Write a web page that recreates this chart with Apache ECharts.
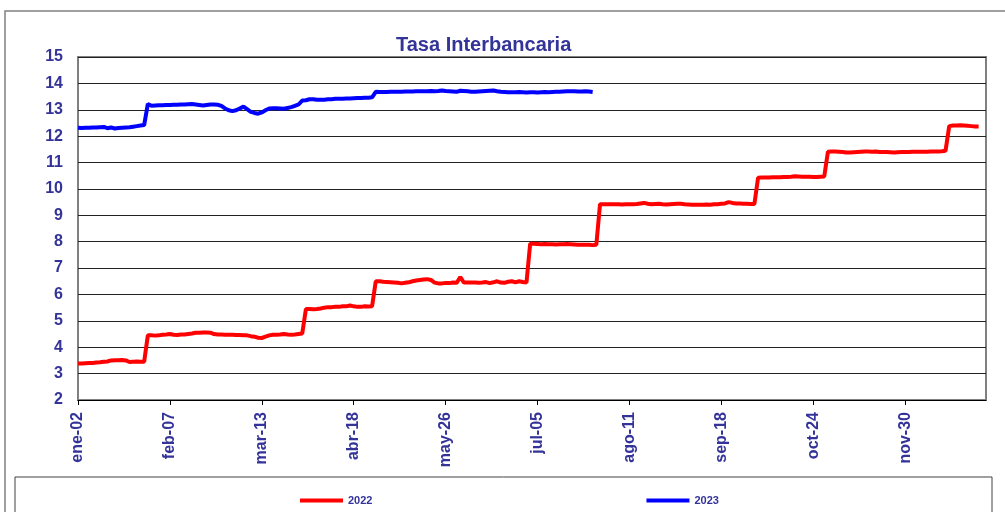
<!DOCTYPE html>
<html>
<head>
<meta charset="utf-8">
<script src="https://cdn.jsdelivr.net/npm/echarts@6/dist/echarts.min.js"></script>
<style>
  html, body { margin: 0; padding: 0; background: #fff; }
  #chart { width: 1005px; height: 512px; }
</style>
</head>
<body>
<div id="chart"></div>
<script>
// ticks every 25 business days
var tickLabels = ['ene-02', 'feb-07', 'mar-13', 'abr-18', 'may-26', 'jul-05', 'ago-11', 'sep-18', 'oct-24', 'nov-30'];
var dayCount = 248;

var tasa2022 = [
  3.38, 3.38, 3.39, 3.40, 3.40, 3.42, 3.43, 3.45, 3.46,
  3.50, 3.51, 3.51, 3.52, 3.50,
  3.44, 3.45, 3.46, 3.45, 3.45,
  4.45,
  4.45, 4.44, 4.45, 4.47, 4.48, 4.50, 4.47, 4.46, 4.48, 4.48, 4.50, 4.52, 4.55, 4.55, 4.56, 4.56, 4.55,
  4.50, 4.48, 4.48, 4.47, 4.47, 4.47, 4.46, 4.46, 4.45, 4.45, 4.42, 4.40, 4.36,
  4.35, 4.40, 4.45, 4.47, 4.47, 4.48, 4.50, 4.48, 4.47, 4.48, 4.50, 4.52,
  5.45,
  5.45, 5.44, 5.45, 5.47, 5.50, 5.52, 5.52, 5.53, 5.53, 5.55, 5.55, 5.58, 5.55, 5.53, 5.53, 5.55, 5.54, 5.55,
  6.50,
  6.50, 6.48, 6.47, 6.46, 6.45, 6.44, 6.42, 6.44, 6.46, 6.50, 6.53, 6.55, 6.57, 6.58, 6.55, 6.45, 6.42, 6.42, 6.43, 6.43,
  6.45, 6.44, 6.66, 6.45, 6.45, 6.45, 6.45, 6.44, 6.45, 6.47, 6.43, 6.46, 6.50, 6.45, 6.44, 6.48, 6.50, 6.46, 6.50, 6.47, 6.45,
  7.92,
  7.92, 7.91, 7.90, 7.91, 7.90, 7.90, 7.89, 7.90, 7.90, 7.91, 7.90, 7.89, 7.88, 7.88, 7.88, 7.88, 7.87, 7.88,
  9.42,
  9.42, 9.42, 9.42, 9.42, 9.42, 9.41, 9.42, 9.42, 9.42, 9.43, 9.45, 9.47, 9.44, 9.42, 9.43, 9.44, 9.42, 9.41, 9.42, 9.43, 9.44,
  9.44, 9.42, 9.41, 9.40, 9.40, 9.40, 9.40, 9.41, 9.40, 9.42, 9.42, 9.44, 9.45, 9.50, 9.47, 9.45, 9.45, 9.44, 9.44, 9.43, 9.43,
  10.42,
  10.43, 10.43, 10.43, 10.44, 10.44, 10.44, 10.45, 10.45, 10.46, 10.48, 10.47, 10.46, 10.46, 10.46, 10.45, 10.45, 10.46, 10.47,
  11.41,
  11.42, 11.42, 11.41, 11.40, 11.38, 11.38, 11.39, 11.40, 11.41, 11.42, 11.42, 11.41, 11.42, 11.40, 11.40, 11.40,
  11.39, 11.38, 11.39, 11.40, 11.40, 11.40, 11.41, 11.41, 11.41, 11.41, 11.41, 11.42, 11.42, 11.42, 11.43, 11.45,
  12.38,
  12.40, 12.40, 12.41, 12.40, 12.39, 12.38, 12.37, 12.37
];

var tasa2023 = [
  12.32, 12.31, 12.32, 12.32, 12.33, 12.33, 12.34, 12.35, 12.30, 12.33, 12.29, 12.31, 12.32, 12.33, 12.34, 12.36, 12.38, 12.40, 12.42,
  13.22,
  13.15, 13.16, 13.17, 13.17, 13.18, 13.18, 13.19, 13.19, 13.20, 13.20, 13.21, 13.22, 13.20, 13.18, 13.16, 13.18, 13.20, 13.20,
  13.19, 13.15, 13.05, 12.98, 12.95, 12.98, 13.05, 13.12, 13.02, 12.92, 12.88, 12.85, 12.90, 12.98,
  13.05, 13.06, 13.06, 13.05, 13.04, 13.07, 13.10, 13.15, 13.20, 13.35, 13.36, 13.40, 13.40, 13.38,
  13.38, 13.38, 13.40, 13.40, 13.42, 13.42, 13.42, 13.43, 13.43, 13.44, 13.45, 13.45, 13.46, 13.46, 13.47,
  13.68,
  13.67, 13.67, 13.67, 13.68, 13.68, 13.68, 13.68, 13.69, 13.69, 13.69, 13.70, 13.70, 13.70, 13.70, 13.71, 13.70, 13.71, 13.73,
  13.71, 13.70, 13.69, 13.68, 13.72,
  13.71, 13.70, 13.68, 13.68, 13.69, 13.70, 13.71, 13.72, 13.73,
  13.70, 13.68, 13.67, 13.66, 13.66, 13.66, 13.67, 13.66, 13.65, 13.66, 13.66, 13.65, 13.66, 13.67,
  13.66, 13.67, 13.68, 13.68, 13.69, 13.70, 13.70, 13.70, 13.69, 13.69, 13.70, 13.69, 13.67
];

var days = [];
for (var i = 0; i < dayCount; i++) days.push(String(i));

var navy = '#333399';
var font = '"Liberation Sans", Arial, sans-serif';

var chart = echarts.init(document.getElementById('chart'), null, { renderer: 'canvas' });
chart.setOption({
  animation: false,
  backgroundColor: '#fff',
  title: {
    text: 'Tasa Interbancaria',
    left: 391,
    top: 30,
    textStyle: { color: navy, fontFamily: font, fontWeight: 'bold', fontSize: 20 }
  },
  graphic: [
    { type: 'rect', shape: { x: 5, y: 11, width: 1010, height: 520 }, style: { fill: 'none', stroke: '#808080', lineWidth: 1.5 }, silent: true },
    { type: 'rect', shape: { x: 15, y: 477, width: 977, height: 50 }, style: { fill: 'none', stroke: '#404040', lineWidth: 1 }, silent: true }
  ],
  legend: {
    left: 295,
    top: 490,
    itemWidth: 43,
    itemHeight: 4,
    itemGap: 274,
    icon: 'rect',
    textStyle: { color: navy, fontFamily: font, fontWeight: 'bold', fontSize: 11 },
    data: ['2022', '2023']
  },
  grid: {
    left: 78, top: 57, right: 19, bottom: 112,
    show: true, borderColor: '#808080', borderWidth: 2
  },
  xAxis: {
    type: 'category',
    data: days,
    boundaryGap: false,
    axisLine: { lineStyle: { color: '#000', width: 1 } },
    axisTick: { interval: 24, length: 5, lineStyle: { color: '#000' } },
    axisLabel: {
      interval: 24,
      rotate: 90,
      margin: 12,
      color: navy,
      fontFamily: font,
      fontWeight: 'bold',
      fontSize: 16,
      formatter: function (v, idx) { return tickLabels[idx / 25] || ''; }
    },
    splitLine: { show: false }
  },
  yAxis: {
    type: 'value',
    min: 2,
    max: 15,
    interval: 1,
    axisLine: { show: false },
    axisTick: { show: false },
    axisLabel: { color: navy, fontFamily: font, fontWeight: 'bold', fontSize: 16, margin: 15 },
    splitLine: { lineStyle: { color: '#222', width: 1 } }
  },
  series: [
    {
      name: '2022', type: 'line', data: tasa2022, symbol: 'none',
      lineStyle: { color: '#ff0000', width: 4 }, itemStyle: { color: '#ff0000' }
    },
    {
      name: '2023', type: 'line', data: tasa2023, symbol: 'none',
      lineStyle: { color: '#0000ff', width: 4 }, itemStyle: { color: '#0000ff' }
    }
  ]
});
</script>
</body>
</html>
